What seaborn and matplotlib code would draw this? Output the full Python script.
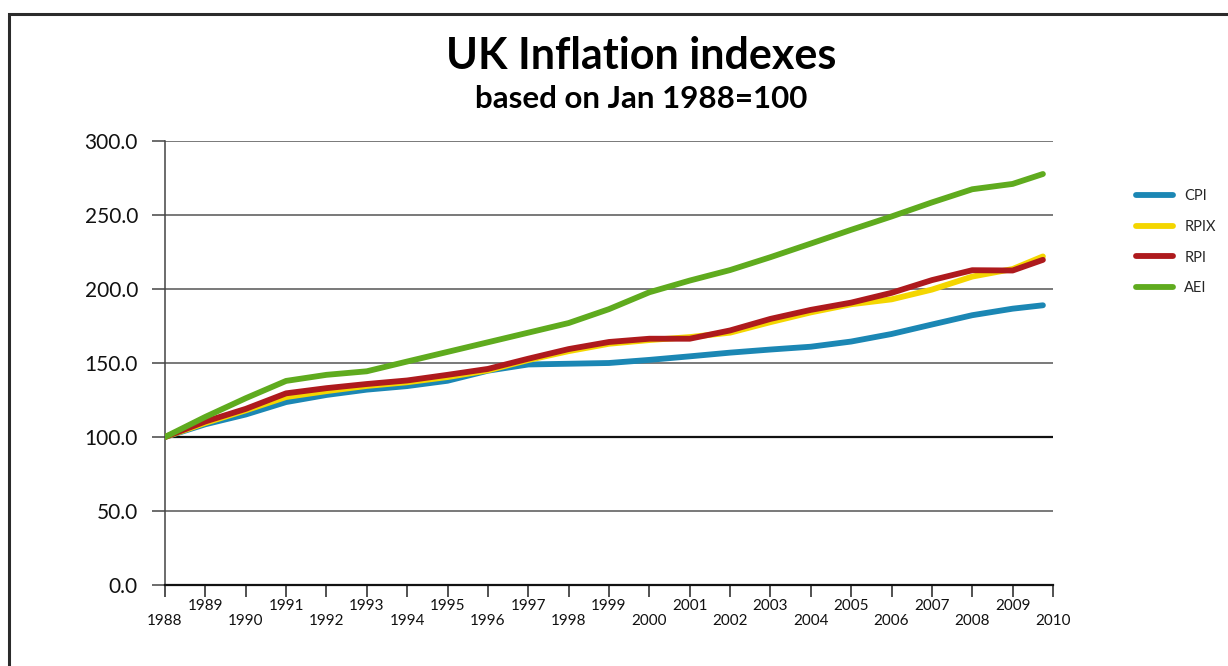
import pandas as pd
import matplotlib.pyplot as plt
import seaborn as sns
from matplotlib.patches import Rectangle

sns.set_theme(style="white")
plt.rcParams["font.family"] = ["Lato", "DejaVu Sans"]

# index values (Jan 1988 = 100), last sample is late 2009
years = list(range(1988, 2010)) + [2009.75]
cpi = [100, 108.6, 115.2, 123.6, 128.4, 132, 134.4, 138, 144.8, 149, 149.5, 150,
       152.1, 154.5, 157, 159.1, 161, 164.5, 169.6, 176, 182.3, 186.7, 189]
rpix = [100, 109.5, 118, 127, 131, 134.5, 137, 140.5, 145, 152, 158, 163,
        165.5, 167.5, 170.5, 177.6, 184.2, 189.7, 193, 199.6, 208.4, 213.5, 222]
rpi = [100, 110.5, 119, 129.5, 133, 135.8, 138.2, 142, 146, 152.9, 159.4, 164.2,
       166.4, 166.4, 172, 179.8, 185.9, 190.8, 197.4, 206, 212.7, 212.5, 219.7]
aei = [100, 113.6, 126.2, 137.9, 142, 144.4, 151, 157.5, 164, 170.5, 177, 186.4,
       197.8, 205.7, 212.8, 221.5, 230.7, 240, 249, 258.5, 267.4, 271, 277.7]

series_names = ["CPI", "RPIX", "RPI", "AEI"]
colors = {"CPI": "#1b87b4", "RPIX": "#f4d600", "RPI": "#ae1a1d", "AEI": "#5fab1e"}
tick_years = list(range(1988, 2011))
y_ticks = [0, 50, 100, 150, 200, 250, 300]

df = pd.concat([
    pd.DataFrame({"year": years, "index": vals, "series": name})
    for name, vals in zip(series_names, [cpi, rpix, rpi, aei])
], ignore_index=True)

fig = plt.figure(figsize=(12.28, 6.66), dpi=100)
ax = fig.add_axes([165 / 1228, 1 - 585 / 666, 888 / 1228, 444 / 666])

for y in y_ticks[1:]:
    if y == 100:
        ax.axhline(y, color="#111111", lw=1.6, zorder=1)
    else:
        ax.axhline(y, color="#555555", lw=1.1, zorder=1)

sns.lineplot(data=df, x="year", y="index", hue="series", hue_order=series_names,
             palette=colors, linewidth=4.2, ax=ax, zorder=3)

ax.set_xlim(1988, 2010)
ax.set_ylim(0, 300)
ax.set_xlabel("")
ax.set_ylabel("")

ax.set_yticks(y_ticks)
ax.set_yticklabels([f"{v:.1f}" for v in y_ticks], fontsize=15, color="#111111")
ax.set_xticks(tick_years)
ax.set_xticklabels([str(y) if y % 2 else "\n" + str(y) for y in tick_years],
                   fontsize=11, linespacing=1.1, color="#111111")
ax.tick_params(axis="y", length=9.5, width=1.1, color="#444444", pad=10, left=True)
ax.tick_params(axis="x", length=8.5, width=1.1, color="#222222", pad=1.5, bottom=True)

for side in ["top", "right"]:
    ax.spines[side].set_visible(False)
ax.spines["left"].set_color("#444444")
ax.spines["left"].set_linewidth(1.1)
ax.spines["bottom"].set_color("#111111")
ax.spines["bottom"].set_linewidth(1.6)

handles, labels = ax.get_legend_handles_labels()
ax.legend(handles, labels, loc="upper left", bbox_to_anchor=(1136 / 1228, 1 - 189 / 666),
          bbox_transform=fig.transFigure, frameon=False, fontsize=10.5,
          handlelength=2.55, handletextpad=0.75, labelspacing=1.15,
          borderpad=0, borderaxespad=0)

fig.text(641 / 1228, 1 - 69 / 666, "UK Inflation indexes", ha="center", va="baseline",
         fontsize=31, fontweight="bold", color="#000000")
fig.text(641 / 1228, 1 - 108 / 666, "based on Jan 1988=100", ha="center", va="baseline",
         fontsize=22.5, fontweight="bold", color="#000000")

fig.patches.append(Rectangle((9 / 1228, -0.1), 1.2, 1.1 - 14 / 666, fill=False,
                             edgecolor="#2b2b2b", lw=2.2, transform=fig.transFigure,
                             figure=fig, clip_on=False))

fig.savefig("out.png", dpi=100)
